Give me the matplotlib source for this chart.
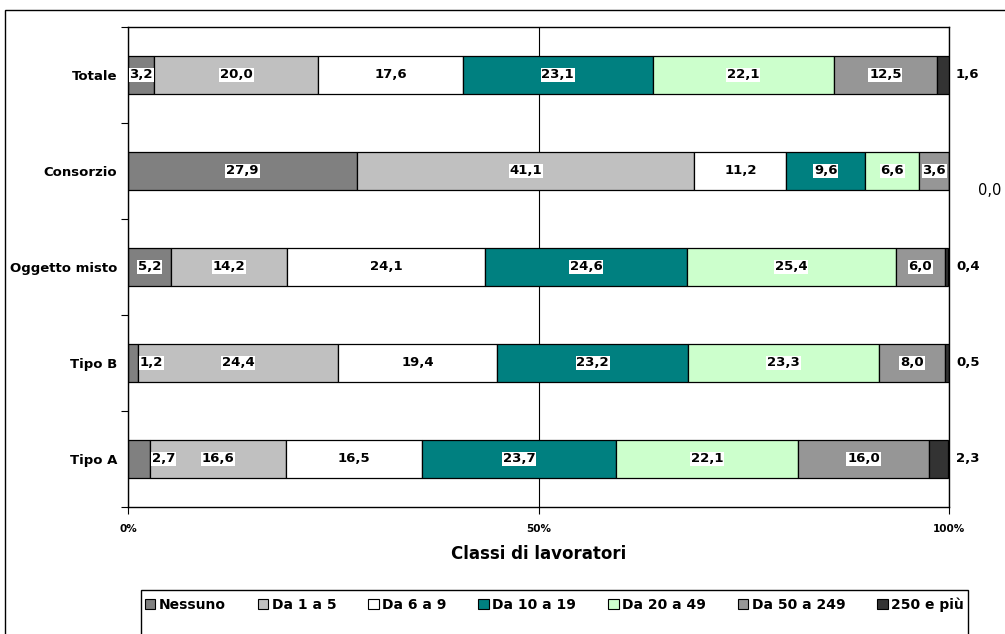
import numpy as np
import matplotlib.pyplot as plt
from matplotlib.patches import Rectangle

plt.rcParams['font.family'] = ['DejaVu Sans']

categories = ['Tipo A', 'Tipo B', 'Oggetto misto', 'Consorzio', 'Totale']
classes = ['Nessuno', 'Da 1 a 5', 'Da 6 a 9', 'Da 10 a 19', 'Da 20 a 49', 'Da 50 a 249', '250 e più']
colors = ['#808080', '#C0C0C0', '#FFFFFF', '#008080', '#CCFFCC', '#969696', '#333333']

nessuno = [2.7, 1.2, 5.2, 27.9, 3.2]
da1a5 = [16.6, 24.4, 14.2, 41.1, 20.0]
da6a9 = [16.5, 19.4, 24.1, 11.2, 17.6]
da10a19 = [23.7, 23.2, 24.6, 9.6, 23.1]
da20a49 = [22.1, 23.3, 25.4, 6.6, 22.1]
da50a249 = [16.0, 8.0, 6.0, 3.6, 12.5]
oltre250 = [2.3, 0.5, 0.4, 0.0, 1.6]

series = [nessuno, da1a5, da6a9, da10a19, da20a49, da50a249, oltre250]

fig = plt.figure(figsize=(10.05, 6.34), dpi=100)
ax = fig.add_axes([128/1005, 1-507/634, 821/1005, 480/634])

# outer frame (right and bottom run past the image edge)
fig.patches.append(Rectangle((5/1005, -0.1), 1.2, 1-10/634+0.1, transform=fig.transFigure,
                             fill=False, edgecolor='black', lw=1.0))

y = np.arange(len(categories))
left = np.zeros(len(categories))
lbl = dict(fontsize=9.5, fontweight='bold', color='black', va='center')
for i, (vals, col) in enumerate(zip(series, colors)):
    vals = np.array(vals)
    ax.barh(y, vals, left=left, height=0.4, color=col, edgecolor='black', lw=0.9, zorder=2)
    for j, v in enumerate(vals):
        txt = f'{v:.1f}'.replace('.', ',')
        if i == len(series) - 1:
            # last class goes outside the plot, on the right
            if v == 0:
                ax.annotate(txt, xy=(1.0, y[j]), xycoords=('axes fraction', 'data'),
                            xytext=(29, -14), textcoords='offset points', ha='center', va='center',
                            fontsize=10.5, color='black')
            else:
                ax.annotate(txt, xy=(1.0, y[j]), xycoords=('axes fraction', 'data'),
                            xytext=(5, 0), textcoords='offset points', ha='left', **lbl)
            continue
        box = dict(facecolor='white', edgecolor='none', pad=0.6)
        if v < 3:
            ax.text(left[j] + v + 0.2, y[j], txt, ha='left', bbox=box, zorder=4, **lbl)
        else:
            ax.text(left[j] + v / 2, y[j], txt, ha='center', bbox=box, zorder=4, **lbl)
    left += vals

ax.set_xlim(0, 100)
ax.set_ylim(-0.5, len(categories) - 0.5)
ax.set_yticks(y)
ax.set_yticklabels(categories, fontsize=9.5, fontweight='bold')
ax.set_yticks(np.arange(-0.5, len(categories)), minor=True)
ax.tick_params(axis='y', which='major', length=0, pad=8)
ax.tick_params(axis='y', which='minor', length=5, direction='out', width=0.8)
ax.set_xticks([0, 50, 100])
ax.set_xticklabels(['0%', '50%', '100%'], fontsize=7.5, fontweight='bold')
ax.tick_params(axis='x', length=5, direction='out', width=0.8, pad=7)
ax.grid(axis='x', color='black', lw=0.8)
ax.set_axisbelow(True)
for s in ax.spines.values():
    s.set_color('black')
    s.set_linewidth(1.0)
ax.set_xlabel('Classi di lavoratori', fontsize=12, fontweight='bold', labelpad=8)

# legend box
fig.patches.append(Rectangle((141/1005, -0.1), 827/1005, 0.1 + 44/634, transform=fig.transFigure,
                             fill=True, facecolor='white', edgecolor='black', lw=1.0))
handles = [Rectangle((0, 0), 1, 1, facecolor=c, edgecolor='black', lw=0.8) for c in colors]
fig.legend(handles, classes, loc='center', bbox_to_anchor=(554.5/1005, 1-605/634), ncol=7,
           frameon=False, prop=dict(size=10, weight='bold'), handlelength=0.75, handleheight=0.75,
           handletextpad=0.25, columnspacing=2.3)

fig.savefig('out.png', dpi=100)
